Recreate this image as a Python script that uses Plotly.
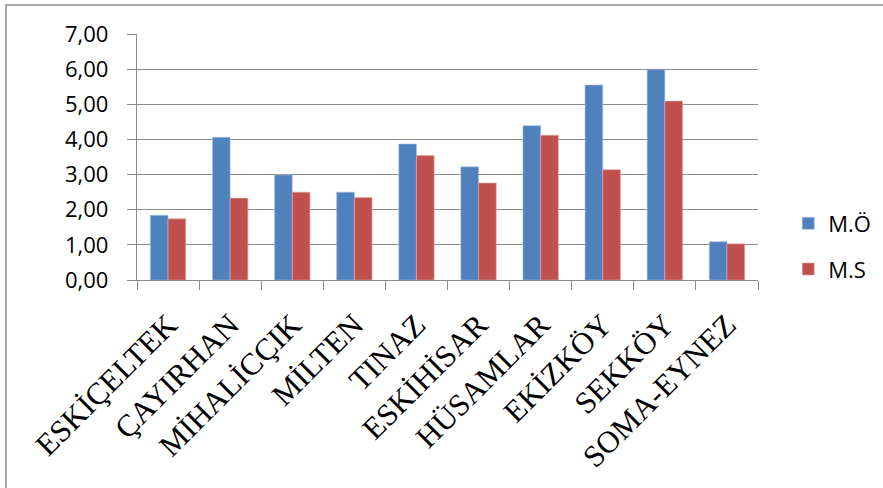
import plotly.graph_objects as go

# Regions and the two measured series
regions = ["ESKİÇELTEK", "ÇAYIRHAN", "MİHALİCÇIK", "MİLTEN", "TINAZ",
           "ESKİHİSAR", "HÜSAMLAR", "EKİZKÖY", "SEKKÖY", "SOMA-EYNEZ"]
mo_values = [1.84, 4.06, 2.99, 2.50, 3.87, 3.22, 4.39, 5.55, 6.00, 1.09]
ms_values = [1.74, 2.33, 2.50, 2.35, 3.54, 2.76, 4.12, 3.14, 5.09, 1.03]
y_ticks = [0, 1, 2, 3, 4, 5, 6, 7]

BLUE = "#4F81BD"
RED = "#C0504D"
GRID = "#8C8C8C"

fig = go.Figure()
fig.add_trace(go.Bar(name="M.Ö", x=regions, y=mo_values, marker_color=BLUE,
                     marker_line=dict(color="#A9C1E0", width=0.6),
                     legendgroup="a"))
fig.add_trace(go.Bar(name="M.S", x=regions, y=ms_values, marker_color=RED,
                     marker_line=dict(color="#E3A9A8", width=0.6),
                     legendgroup="b"))

fig.update_layout(
    width=883, height=488,
    margin=dict(l=20, r=125, t=34, b=208, autoexpand=False),
    paper_bgcolor="white", plot_bgcolor="white",
    separators=", ",
    barmode="group", bargap=0.43, bargroupgap=0,
    font=dict(family="Open Sans", size=22, color="black"),
    legend=dict(x=1.041, y=0.136, xanchor="left", yanchor="middle",
                font=dict(family="Open Sans", size=22),
                traceorder="grouped", tracegroupgap=14,
                itemwidth=30, bgcolor="rgba(0,0,0,0)"),
    xaxis=dict(domain=[(137 - 20) / 738, 1], type="category",
               showgrid=False, automargin=False,
               showline=True, linecolor=GRID, linewidth=1.3,
               ticks="outside", tickson="boundaries", ticklen=9,
               tickcolor=GRID, tickwidth=1.3,
               tickangle=-45, ticklabelstandoff=13,
               tickfont=dict(family="Liberation Serif", size=31, color="black")),
    yaxis=dict(range=[0, 7], tickvals=y_ticks, tickformat=".2f",
               showgrid=True, gridcolor=GRID, gridwidth=1.3,
               showline=True, linecolor=GRID, linewidth=1.3, automargin=False,
               ticks="outside", ticklen=9, tickcolor=GRID, tickwidth=1.3,
               zeroline=False, ticklabelstandoff=14,
               tickfont=dict(family="Open Sans", size=22)),
)

# chart frame
fig.add_shape(type="rect", xref="paper", yref="paper",
              x0=-0.019, x1=1.5, y0=-2, y1=1.118, layer="below",
              line=dict(color=GRID, width=1.5), fillcolor="rgba(0,0,0,0)")

fig.write_html("out.html")
